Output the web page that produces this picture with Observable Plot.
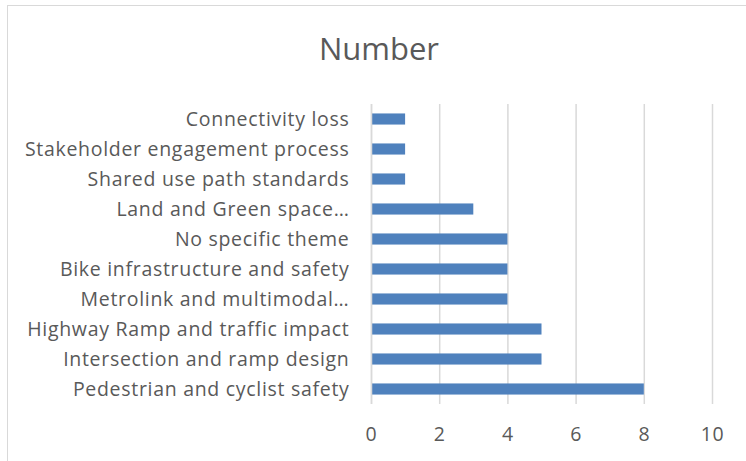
<!DOCTYPE html>
<html>
<head>
<meta charset="utf-8">
<script src="https://cdn.jsdelivr.net/npm/d3@7"></script>
<script src="https://cdn.jsdelivr.net/npm/@observablehq/plot@0.6"></script>
<style>
  html, body { margin: 0; padding: 0; background: #fff; overflow: hidden; }
  #wrap { position: relative; width: 746px; height: 461px; }
  #frame { position: absolute; left: 7px; top: 5px; width: 800px; height: 500px; border: 1.5px solid #d9d9d9; box-sizing: border-box; }
  #title { position: absolute; left: 0; width: 758px; top: 27px; text-align: center; font-family: "Open Sans", sans-serif; font-size: 31px; color: #595959; line-height: 42px; z-index: 2; }
  #chart { position: absolute; left: 0; top: 0; z-index: 1; }
  #chart svg text { letter-spacing: 0.7px; }
</style>
</head>
<body>
<div id="wrap">
  <div id="frame"></div>
  <div id="title">Number</div>
  <div id="chart"></div>
</div>
<script>
const categories = [
  "Connectivity loss",
  "Stakeholder engagement process",
  "Shared use path standards",
  "Land and Green space…",
  "No specific theme",
  "Bike infrastructure and safety",
  "Metrolink and multimodal…",
  "Highway Ramp and traffic impact",
  "Intersection and ramp design",
  "Pedestrian and cyclist safety"
];
const counts = [1, 1, 1, 3, 4, 4, 4, 5, 5, 8];
const xTicks = [0, 2, 4, 6, 8, 10];

const data = categories.map((c, i) => ({category: c, count: counts[i]}));

const chart = Plot.plot({
  width: 746,
  height: 461,
  marginTop: 104,
  marginBottom: 57,
  marginLeft: 371,
  marginRight: 34,
  style: {fontFamily: "'Open Sans', sans-serif", fontSize: "19.5px", color: "#595959", background: "transparent"},
  x: {domain: [0, 10], ticks: xTicks, tickSize: 0, tickPadding: 23, label: null},
  y: {domain: categories, paddingInner: 0.63, paddingOuter: 0.315, round: false, tickSize: 0, tickPadding: 22, label: null},
  marks: [
    Plot.gridX(xTicks, {stroke: "#d9d9d9", strokeOpacity: 1, strokeWidth: 1.5}),
    Plot.barX(data, {x: "count", y: "category", fill: "#4f81bd"}),
    Plot.ruleX([0], {stroke: "#d9d9d9", strokeWidth: 1.5})
  ]
});
document.getElementById("chart").appendChild(chart);
</script>
</body>
</html>
